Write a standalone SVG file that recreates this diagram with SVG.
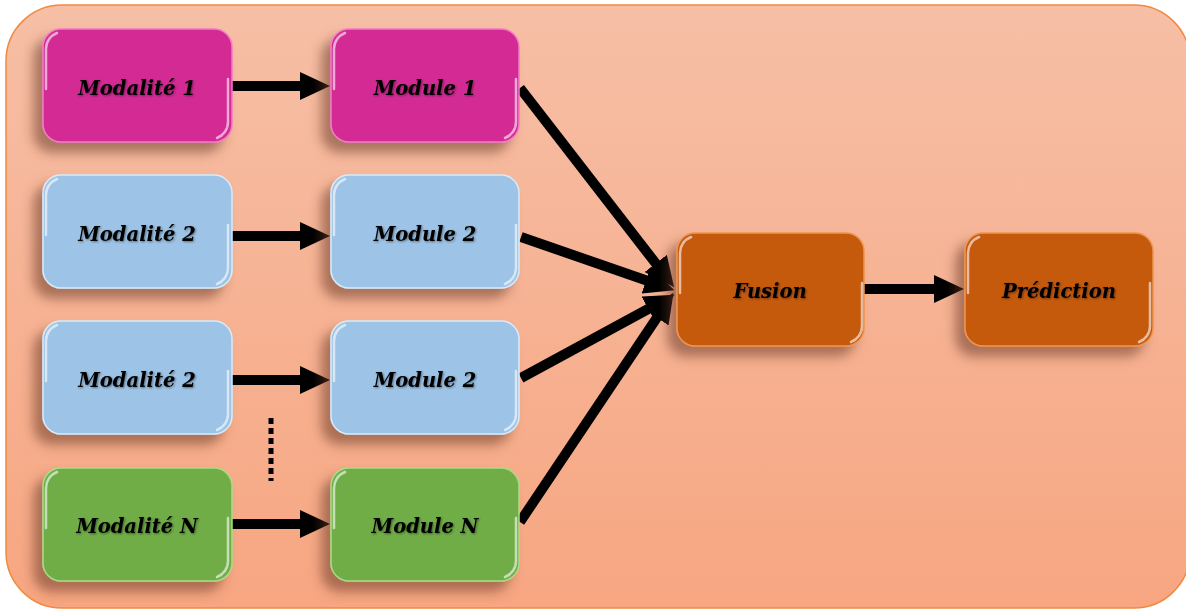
<svg xmlns="http://www.w3.org/2000/svg" width="1186" height="610" viewBox="0 0 1186 610">
  <defs>
    <linearGradient id="bg" x1="0" y1="0" x2="0" y2="1">
      <stop offset="0" stop-color="#F6BFA6"/>
      <stop offset="1" stop-color="#F7A681"/>
    </linearGradient>
    <filter id="shadow" x="-20%" y="-20%" width="140%" height="150%">
      <feGaussianBlur in="SourceAlpha" stdDeviation="6"/>
      <feOffset dx="-9" dy="10" result="b"/>
      <feFlood flood-color="#6b3a28" flood-opacity="0.55"/>
      <feComposite in2="b" operator="in"/>
      <feMerge>
        <feMergeNode/>
        <feMergeNode in="SourceGraphic"/>
      </feMerge>
    </filter>
    <filter id="textglow" x="-10%" y="-30%" width="120%" height="160%">
      <feGaussianBlur in="SourceAlpha" stdDeviation="0.8"/>
      <feOffset dx="0.8" dy="1" result="b"/>
      <feFlood flood-color="#000" flood-opacity="0.45"/>
      <feComposite in2="b" operator="in"/>
      <feMerge>
        <feMergeNode/>
        <feMergeNode in="SourceGraphic"/>
      </feMerge>
    </filter>
    <marker id="head" viewBox="0 0 30 28" refX="2" refY="14" markerWidth="30" markerHeight="28" markerUnits="userSpaceOnUse" orient="auto">
      <path d="M0,0 L30,14 L0,28 Z" fill="#000"/>
    </marker>
    <!-- bevel gloss on the top-left and bottom-right corners of a 188x113 box -->
    <g id="gloss" fill="none" stroke="#ffffff" stroke-linecap="round">
      <path d="M3,60 V20 A17,17 0 0 1 14,4" stroke-opacity="0.6" stroke-width="2.5"/>
      <path d="M185,50 V93 A17,17 0 0 1 174,109" stroke-opacity="0.6" stroke-width="2.5"/>
    </g>
    <style>
      .box { stroke-width: 1.5; }
      .pink { fill: #D42A94; stroke: #F27BC6; }
      .blue { fill: #9DC3E6; stroke: #D6ECFB; }
      .green { fill: #70AD47; stroke: #A9DB86; }
      .orange { fill: #C55A11; stroke: #F0954E; }
      .lbl { font-family: "DejaVu Serif", "Liberation Serif", serif; font-weight: bold; font-style: italic; font-size: 19.5px; fill: #000; text-anchor: middle; }
      .edge { stroke: #000; stroke-width: 10; fill: none; }
    </style>
  </defs>

  <!-- background panel -->
  <rect x="6" y="5" width="1184" height="603" rx="56" ry="56" fill="url(#bg)" stroke="#F08A40" stroke-width="1.5"/>

  <!-- connectors -->
  <g id="connectors">
    <line class="edge" x1="232" y1="86" x2="302" y2="86" marker-end="url(#head)"/>
    <line class="edge" x1="232" y1="236" x2="302" y2="236" marker-end="url(#head)"/>
    <line class="edge" x1="232" y1="380" x2="302" y2="380" marker-end="url(#head)"/>
    <line class="edge" x1="232" y1="524" x2="302" y2="524" marker-end="url(#head)"/>
    <line class="edge" x1="520" y1="88" x2="657" y2="265" marker-end="url(#head)"/>
    <line class="edge" x1="521" y1="237" x2="648" y2="281" marker-end="url(#head)"/>
    <line class="edge" x1="521" y1="378" x2="650" y2="308" marker-end="url(#head)"/>
    <line class="edge" x1="520" y1="522" x2="658" y2="316" marker-end="url(#head)"/>
    <line class="edge" x1="864" y1="289" x2="936" y2="289" marker-end="url(#head)"/>
    <line x1="271" y1="418" x2="271" y2="481" stroke="#000" stroke-width="5" stroke-dasharray="6 4"/>
  </g>

  <g id="modalite1" filter="url(#shadow)">
    <rect class="box pink" x="43" y="29" width="189" height="113" rx="18"/>
    <use href="#gloss" x="43" y="29"/>
    <text class="lbl" x="137" y="95" filter="url(#textglow)">Modalité 1</text>
  </g>
  <g id="module1" filter="url(#shadow)">
    <rect class="box pink" x="331" y="29" width="188" height="113" rx="18"/>
    <use href="#gloss" x="331" y="29"/>
    <text class="lbl" x="425" y="95" filter="url(#textglow)">Module 1</text>
  </g>

  <g id="modalite2" filter="url(#shadow)">
    <rect class="box blue" x="43" y="175" width="189" height="113" rx="18"/>
    <use href="#gloss" x="43" y="175"/>
    <text class="lbl" x="137" y="241" filter="url(#textglow)">Modalité 2</text>
  </g>
  <g id="module2" filter="url(#shadow)">
    <rect class="box blue" x="331" y="175" width="188" height="113" rx="18"/>
    <use href="#gloss" x="331" y="175"/>
    <text class="lbl" x="425" y="241" filter="url(#textglow)">Module 2</text>
  </g>

  <g id="modalite3" filter="url(#shadow)">
    <rect class="box blue" x="43" y="321" width="189" height="113" rx="18"/>
    <use href="#gloss" x="43" y="321"/>
    <text class="lbl" x="137" y="387" filter="url(#textglow)">Modalité 2</text>
  </g>
  <g id="module3" filter="url(#shadow)">
    <rect class="box blue" x="331" y="321" width="188" height="113" rx="18"/>
    <use href="#gloss" x="331" y="321"/>
    <text class="lbl" x="425" y="387" filter="url(#textglow)">Module 2</text>
  </g>

  <g id="modaliteN" filter="url(#shadow)">
    <rect class="box green" x="43" y="468" width="189" height="113" rx="18"/>
    <use href="#gloss" x="43" y="468"/>
    <text class="lbl" x="137" y="533" filter="url(#textglow)">Modalité N</text>
  </g>
  <g id="moduleN" filter="url(#shadow)">
    <rect class="box green" x="331" y="468" width="188" height="113" rx="18"/>
    <use href="#gloss" x="331" y="468"/>
    <text class="lbl" x="425" y="533" filter="url(#textglow)">Module N</text>
  </g>

  <g id="fusion" filter="url(#shadow)">
    <rect class="box orange" x="677" y="233" width="187" height="113" rx="18"/>
    <use href="#gloss" x="677" y="233"/>
    <text class="lbl" x="770" y="298" filter="url(#textglow)">Fusion</text>
  </g>
  <g id="prediction" filter="url(#shadow)">
    <rect class="box orange" x="965" y="233" width="188" height="113" rx="18"/>
    <use href="#gloss" x="965" y="233"/>
    <text class="lbl" x="1059" y="298" filter="url(#textglow)">Prédiction</text>
  </g>
</svg>
